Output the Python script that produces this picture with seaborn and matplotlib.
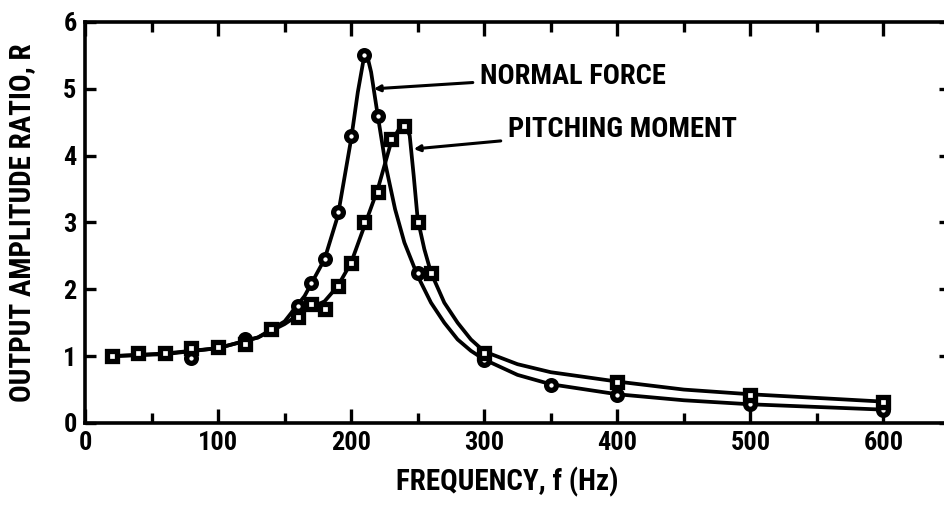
import numpy as np
import pandas as pd
import matplotlib
matplotlib.use("Agg")
import matplotlib.pyplot as plt
import seaborn as sns

sns.set_style("ticks")
plt.rcParams["font.family"] = ["Roboto Condensed", "Archivo Narrow", "DejaVu Sans"]
plt.rcParams["font.weight"] = "bold"
plt.rcParams["text.color"] = "black"
plt.rcParams["axes.labelcolor"] = "black"
plt.rcParams["xtick.color"] = "black"
plt.rcParams["ytick.color"] = "black"
plt.rcParams["axes.edgecolor"] = "black"

nf_freq = [20, 40, 60, 80, 120, 140, 160, 170, 180, 190, 200, 210, 220, 250, 300, 350, 400, 500, 600]
nf_ratio = [1.0, 1.05, 1.05, 0.97, 1.25, 1.4, 1.75, 2.1, 2.45, 3.15, 4.3, 5.5, 4.6, 2.25, 0.95, 0.57, 0.42, 0.28, 0.2]

pm_freq = [20, 40, 60, 80, 100, 120, 140, 160, 170, 180, 190, 200, 210, 220, 230, 240, 250, 260, 300, 400, 500, 600]
pm_ratio = [1.0, 1.05, 1.05, 1.12, 1.13, 1.18, 1.4, 1.58, 1.78, 1.7, 2.05, 2.4, 3.0, 3.45, 4.25, 4.45, 3.0, 2.25, 1.05, 0.62, 0.42, 0.32]

# faired curves drawn through the points
nf_curve_f = [20, 60, 100, 130, 150, 165, 180, 190, 200, 205, 209, 212, 215, 220, 226, 233, 240, 250, 260, 270, 280, 290, 300, 325, 350, 400, 450, 500, 600]
nf_curve_r = [1.0, 1.03, 1.12, 1.28, 1.52, 1.9, 2.45, 3.1, 4.25, 4.95, 5.4, 5.5, 5.25, 4.6, 3.85, 3.2, 2.7, 2.2, 1.8, 1.5, 1.25, 1.08, 0.95, 0.72, 0.58, 0.43, 0.34, 0.28, 0.2]

pm_curve_f = [20, 60, 100, 130, 150, 165, 180, 190, 200, 210, 220, 230, 236, 241, 244, 247, 250, 255, 260, 270, 280, 290, 300, 325, 350, 400, 450, 500, 600]
pm_curve_r = [1.0, 1.04, 1.12, 1.28, 1.48, 1.68, 1.82, 2.05, 2.4, 2.95, 3.5, 4.2, 4.4, 4.45, 4.3, 3.7, 3.05, 2.6, 2.25, 1.8, 1.5, 1.25, 1.07, 0.88, 0.76, 0.62, 0.5, 0.43, 0.32]

nf_pts = pd.DataFrame({"f": nf_freq, "R": nf_ratio})
pm_pts = pd.DataFrame({"f": pm_freq, "R": pm_ratio})
nf_line = pd.DataFrame({"f": nf_curve_f, "R": nf_curve_r})
pm_line = pd.DataFrame({"f": pm_curve_f, "R": pm_curve_r})

fig = plt.figure(figsize=(9.45, 5.09), dpi=100)
ax = fig.add_axes([85 / 945, 86 / 509, 865 / 945, 401 / 509])

sns.lineplot(data=nf_line, x="f", y="R", color="black", lw=2.7, sort=False, ax=ax)
sns.lineplot(data=pm_line, x="f", y="R", color="black", lw=2.7, sort=False, ax=ax)
ax.plot(nf_pts["f"], nf_pts["R"], ls="none", marker="o", ms=7, mfc="white", mec="black", mew=3.8, zorder=5)
ax.plot(pm_pts["f"], pm_pts["R"], ls="none", marker="s", ms=6.5, mfc="white", mec="black", mew=3.8, zorder=5)

ax.set_xlim(0, 650)
ax.set_ylim(0, 6)
ax.set_xticks(range(0, 700, 100))
ax.set_xticks(range(50, 650, 100), minor=True)
ax.set_yticks(range(0, 7))
ax.tick_params(axis="both", which="both", direction="in", top=True, right=True, width=2.4, labelsize=19, pad=6)
ax.tick_params(axis="x", which="major", length=10)
ax.tick_params(axis="x", which="minor", length=7)
ax.tick_params(axis="y", which="major", length=8)
for s in ax.spines.values():
    s.set_linewidth(2.6)

ax.set_xlabel("FREQUENCY, f (Hz)", fontsize=21, fontweight="bold")
ax.set_ylabel("OUTPUT AMPLITUDE RATIO, R", fontsize=21, fontweight="bold")
ax.xaxis.set_label_coords(0.488, -0.11)
ax.yaxis.set_label_coords(-0.057, 0.5)

arrow = dict(arrowstyle="-|>", color="black", lw=2.2, mutation_scale=9, shrinkA=3, shrinkB=0)
ax.annotate("NORMAL FORCE", xy=(217, 5.0), xytext=(297, 5.19), fontsize=20.5, fontweight="bold",
            ha="left", va="center", arrowprops=arrow)
ax.annotate("PITCHING MOMENT", xy=(247, 4.1), xytext=(318, 4.39), fontsize=20.5, fontweight="bold",
            ha="left", va="center", arrowprops=arrow)

fig.savefig("out.png", dpi=100)
